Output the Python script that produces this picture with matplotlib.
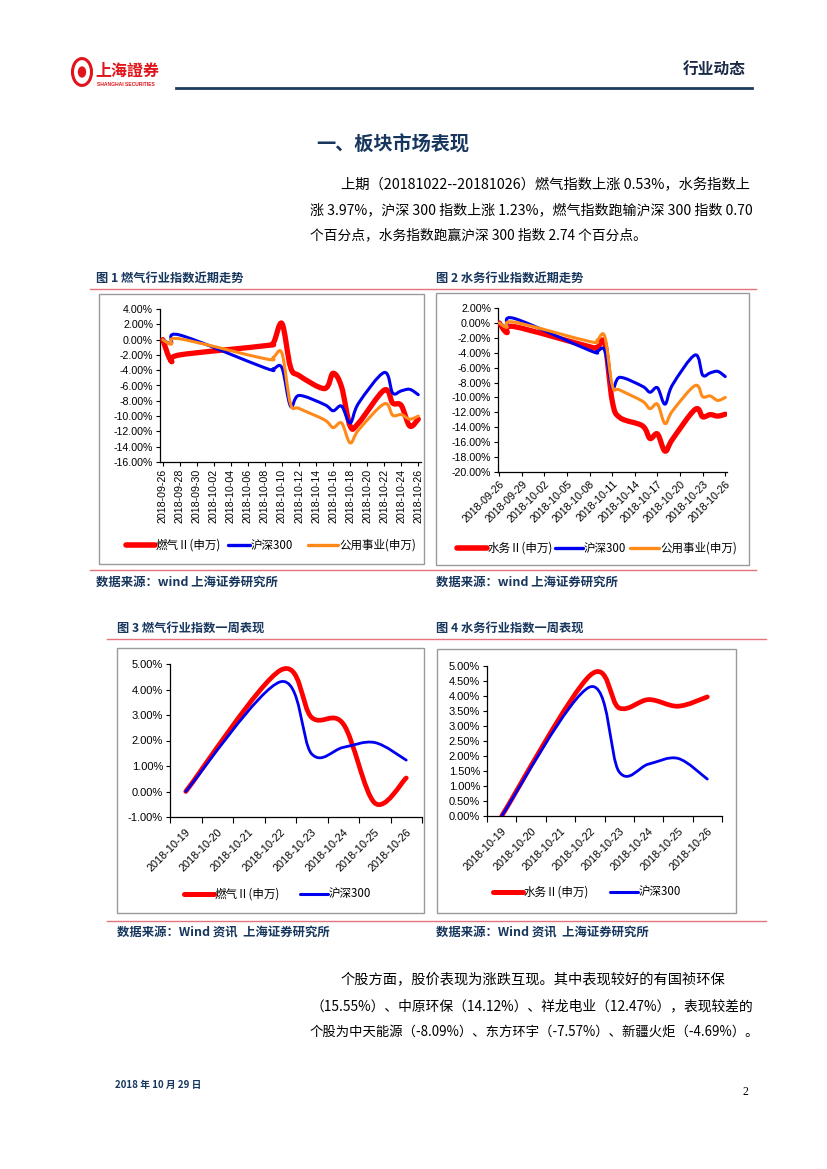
import numpy as np
import pandas as pd
import matplotlib
matplotlib.use('Agg')
import matplotlib.pyplot as plt
import matplotlib.dates as mdates
from matplotlib.path import Path
from matplotlib.patches import PathPatch, Rectangle, Circle
from matplotlib.lines import Line2D

CJK = ['Noto Sans CJK SC', 'DejaVu Sans']
LAT = ['Liberation Sans', 'DejaVu Sans']
plt.rcParams['font.family'] = CJK

# ---------------- data ----------------
trend_dates = ['2018-09-26', '2018-09-27', '2018-09-28', '2018-10-08', '2018-10-09',
               '2018-10-10', '2018-10-11', '2018-10-12', '2018-10-15', '2018-10-16',
               '2018-10-17', '2018-10-18', '2018-10-19', '2018-10-22', '2018-10-23',
               '2018-10-24', '2018-10-25', '2018-10-26']
gas_trend = [0.0, -2.8, -2.0, -0.8, -0.4, 2.1, -3.6, -4.7, -6.4, -4.4, -6.2, -11.3,
             -10.9, -6.6, -8.3, -8.6, -11.3, -10.4]
hs300_trend = [0.0, -0.5, 0.6, -3.7, -3.8, -3.7, -8.7, -7.3, -8.5, -9.3, -8.7, -10.9,
               -8.3, -4.3, -7.0, -6.7, -6.5, -7.2]
utility_trend = [0.0, -0.6, 0.1, -2.5, -2.3, -1.8, -8.4, -9.0, -10.5, -11.5, -10.9, -13.5,
                 -11.8, -8.4, -9.9, -9.8, -10.4, -10.0]
water_trend = [0.0, -1.3, -0.5, -3.2, -3.3, -2.7, -10.5, -12.7, -13.8, -15.5, -14.9, -17.2,
               -15.6, -11.6, -12.6, -12.3, -12.5, -12.25]

fig1_ticks = ['2018-09-26', '2018-09-28', '2018-09-30', '2018-10-02', '2018-10-04',
              '2018-10-06', '2018-10-08', '2018-10-10', '2018-10-12', '2018-10-14',
              '2018-10-16', '2018-10-18', '2018-10-20', '2018-10-22', '2018-10-24',
              '2018-10-26']
fig2_ticks = ['2018-09-26', '2018-09-29', '2018-10-02', '2018-10-05', '2018-10-08',
              '2018-10-11', '2018-10-14', '2018-10-17', '2018-10-20', '2018-10-23',
              '2018-10-26']
fig1_yticks = [4, 2, 0, -2, -4, -6, -8, -10, -12, -14, -16]
fig2_yticks = [2, 0, -2, -4, -6, -8, -10, -12, -14, -16, -18, -20]

week_dates = ['2018-10-19', '2018-10-22', '2018-10-23', '2018-10-24', '2018-10-25', '2018-10-26']
week_labels = ['2018-10-19', '2018-10-20', '2018-10-21', '2018-10-22', '2018-10-23',
               '2018-10-24', '2018-10-25', '2018-10-26']
gas_week = [0.0, 4.75, 2.9, 2.65, -0.45, 0.53]
hs300_week = [0.0, 4.3, 1.47, 1.73, 1.92, 1.23]
water_week = [0.0, 4.68, 3.6, 3.88, 3.66, 3.97]
fig3_yticks = [5, 4, 3, 2, 1, 0, -1]
fig4_yticks = [5, 4.5, 4, 3.5, 3, 2.5, 2, 1.5, 1, 0.5, 0]

RED = '#FF0000'
BLUE = '#0000F0'
ORANGE = '#FF8A1A'
NAVY = '#17365D'
SEP = '#E5737D'

W, H = 827, 1169
fig = plt.figure(figsize=(W / 100, H / 100), dpi=100)


def fx(x):
    return x / W


def fy(y):
    return 1 - y / H


def text(x, y, s, **kw):
    fig.text(fx(x), fy(y), s, **kw)


def hline(x0, x1, y, **kw):
    fig.add_artist(Line2D([fx(x0), fx(x1)], [fy(y), fy(y)], transform=fig.transFigure, **kw))


def frame(x0, y0, x1, y1):
    fig.add_artist(Rectangle((fx(x0), fy(y1)), fx(x1) - fx(x0), fy(y0) - fy(y1),
                             transform=fig.transFigure, fill=False, edgecolor='#9A9A9A', lw=1.0))


def axes_at(l, t, r, b):
    ax = fig.add_axes([fx(l), fy(b), fx(r) - fx(l), fy(t) - fy(b)])
    ax.set_facecolor('none')
    for s in ['top', 'right']:
        ax.spines[s].set_visible(False)
    for s in ['left', 'bottom']:
        ax.spines[s].set_color('black')
        ax.spines[s].set_linewidth(0.9)
    ax.tick_params(direction='out', length=3, width=0.8, colors='black', labelsize=7.7, pad=2)
    return ax


def smooth_path(x, y):
    x = np.asarray(x, float)
    y = np.asarray(y, float)
    n = len(x)
    verts = [(x[0], y[0])]
    codes = [Path.MOVETO]
    for i in range(n - 1):
        p0 = np.array([x[max(i - 1, 0)], y[max(i - 1, 0)]])
        p1 = np.array([x[i], y[i]])
        p2 = np.array([x[i + 1], y[i + 1]])
        p3 = np.array([x[min(i + 2, n - 1)], y[min(i + 2, n - 1)]])
        c1 = p1 + (p2 - p0) / 6.0
        c2 = p2 - (p3 - p1) / 6.0
        verts += [tuple(c1), tuple(c2), tuple(p2)]
        codes += [Path.CURVE4] * 3
    return Path(verts, codes)


def draw_series(ax, x, y, color, lw, z):
    ax.add_patch(PathPatch(smooth_path(x, y), fill=False, edgecolor=color, lw=lw,
                           capstyle='round', joinstyle='round', zorder=z))


def legend_item(x0, x1, y, color, lw, label):
    hline(x0, x1, y, color=color, lw=lw, solid_capstyle='round')
    text(x1 + 1, y, label, fontsize=8.3, va='center', ha='left', family=CJK, color='black')


def pct(v, nd=2):
    return f'{v:.{nd}f}%'


# ---------------- header ----------------
fig.add_artist(Circle((fx(82), fy(72)), 9.5 / W, transform=fig.transFigure,
                      fill=False, edgecolor='#E0151B', lw=2.2))
fig.add_artist(Circle((fx(82), fy(72)), 3.5 / W, transform=fig.transFigure,
                      fill=True, color='#E0151B'))
text(95, 71, '上海證券', fontsize=11.5, fontweight='bold', color='#E0151B',
     family=['Noto Sans CJK TC', 'DejaVu Sans'], va='center', ha='left')
text(97, 84, 'SHANGHAI SECURITIES', fontsize=3.6, color='#E0151B', fontweight='bold',
     family=LAT, va='center', ha='left')
text(746, 70, '行业动态', fontsize=11.3, fontweight='bold', color='#1B2A47', va='center', ha='right')
hline(176, 752, 88, color='#1F3A5F', lw=2.0)

# ---------------- section text ----------------
text(393, 145, '一、板块市场表现', fontsize=13.8, fontweight='bold', color=NAVY, ha='center', va='center')
para_kw = dict(color='black', va='center', ha='left')
text(341, 185, '上期（20181022--20181026）燃气指数上涨 0.53%，水务指数上', fontsize=10.3, **para_kw)
text(310, 210, '涨 3.97%，沪深 300 指数上涨 1.23%，燃气指数跑输沪深 300 指数 0.70', fontsize=10.1, **para_kw)
text(310, 235, '个百分点，水务指数跑赢沪深 300 指数 2.74 个百分点。', fontsize=9.9, **para_kw)

# ---------------- figure 1/2 titles & separators ----------------
title_kw = dict(fontsize=8.8, fontweight='bold', color=NAVY, va='center', ha='left')
text(96, 278, '图 1 燃气行业指数近期走势', **title_kw)
text(436, 278, '图 2 水务行业指数近期走势', **title_kw)
hline(90, 756, 289, color=SEP, lw=1.0)
hline(90, 756, 570, color=SEP, lw=1.0)
src_kw = dict(fontsize=8.9, fontweight='bold', color=NAVY, va='center', ha='left', style='italic')
text(96, 582, '数据来源：wind 上海证券研究所', **src_kw)
text(436, 582, '数据来源：wind 上海证券研究所', **src_kw)

frame(99, 294, 424, 564)
frame(436, 293, 749, 565)

# ---------------- figure 1 ----------------
tx = mdates.date2num(pd.to_datetime(trend_dates))
t1 = mdates.date2num(pd.to_datetime(fig1_ticks))
t2 = mdates.date2num(pd.to_datetime(fig2_ticks))

ax1 = axes_at(160, 309, 421, 462)
draw_series(ax1, tx, gas_trend, RED, 3.8, 3)
draw_series(ax1, tx, hs300_trend, BLUE, 2.2, 4)
draw_series(ax1, tx, utility_trend, ORANGE, 2.2, 5)
ax1.set_xlim(tx[0] - 0.32, tx[-1] + 0.32)
ax1.set_ylim(fig1_yticks[-1], fig1_yticks[0])
ax1.set_yticks(fig1_yticks)
ax1.set_yticklabels([pct(v) for v in fig1_yticks], family=LAT)
ax1.set_xticks(t1)
ax1.set_xticklabels(fig1_ticks, rotation=90, family=LAT)
legend_item(126, 155, 545, RED, 4.0, '燃气Ⅱ(申万)')
legend_item(228, 250, 545, BLUE, 2.4, '沪深300')
legend_item(308, 338, 545, ORANGE, 2.4, '公用事业(申万)')

# ---------------- figure 2 ----------------
ax2 = axes_at(498, 308, 727, 472)
draw_series(ax2, tx, water_trend, RED, 3.8, 3)
draw_series(ax2, tx, hs300_trend, BLUE, 2.2, 4)
draw_series(ax2, tx, utility_trend, ORANGE, 2.2, 5)
ax2.set_xlim(tx[0] - 0.17, tx[-1] + 0.23)
ax2.set_ylim(fig2_yticks[-1], fig2_yticks[0])
ax2.set_yticks(fig2_yticks)
ax2.set_yticklabels([pct(v) for v in fig2_yticks], family=LAT)
ax2.set_xticks(t2)
ax2.set_xticklabels(fig2_ticks, rotation=45, ha='right', rotation_mode='anchor', family=LAT)
legend_item(457, 487, 548, RED, 4.0, '水务Ⅱ(申万)')
legend_item(555, 583, 548, BLUE, 2.4, '沪深300')
legend_item(630, 659, 548, ORANGE, 2.4, '公用事业(申万)')

# ---------------- figure 3/4 titles & separators ----------------
text(117, 628, '图 3 燃气行业指数一周表现', **title_kw)
text(436, 628, '图 4 水务行业指数一周表现', **title_kw)
hline(107, 766, 639, color=SEP, lw=1.0)
hline(107, 766, 921, color=SEP, lw=1.0)
text(117, 933, '数据来源：Wind 资讯  上海证券研究所', **src_kw)
text(436, 933, '数据来源：Wind 资讯  上海证券研究所', **src_kw)

frame(117, 648, 424, 913)
frame(437, 649, 736, 913)

wk_all = mdates.date2num(pd.to_datetime(week_labels))
wx = mdates.date2num(pd.to_datetime(week_dates))

# ---------------- figure 3 ----------------
ax3 = axes_at(170, 664, 422, 817)
draw_series(ax3, wx, gas_week, RED, 3.4, 3)
draw_series(ax3, wx, hs300_week, BLUE, 2.0, 4)
ax3.set_xlim(wk_all[0] - 0.5, wk_all[-1] + 0.5)
ax3.set_ylim(fig3_yticks[-1], fig3_yticks[0])
ax3.set_yticks(fig3_yticks)
ax3.set_yticklabels([pct(v) for v in fig3_yticks], family=LAT, fontsize=8)
ax3.set_xticks(np.append(wk_all - 0.5, wk_all[-1] + 0.5))
ax3.set_xticklabels([])
ax3.tick_params(axis='x', length=4)
ax3.set_xticks(wk_all, minor=True)
ax3.set_xticklabels(week_labels, minor=True, rotation=45, ha='right', rotation_mode='anchor',
                    family=LAT, fontsize=7.8)
ax3.tick_params(axis='x', which='minor', length=0, pad=7)
legend_item(184, 214, 894, RED, 3.6, '燃气Ⅱ(申万)')
legend_item(300, 328, 894, BLUE, 2.2, '沪深300')

# ---------------- figure 4 ----------------
ax4 = axes_at(487, 666, 722, 816)
draw_series(ax4, wx, water_week, RED, 3.4, 3)
draw_series(ax4, wx, hs300_week, BLUE, 2.0, 4)
ax4.set_xlim(wk_all[0] - 0.5, wk_all[-1] + 0.5)
ax4.set_ylim(fig4_yticks[-1], fig4_yticks[0])
ax4.set_yticks(fig4_yticks)
ax4.set_yticklabels([pct(v) for v in fig4_yticks], family=LAT, fontsize=8)
ax4.set_xticks(np.append(wk_all - 0.5, wk_all[-1] + 0.5))
ax4.set_xticklabels([])
ax4.tick_params(axis='x', length=4)
ax4.set_xticks(wk_all, minor=True)
ax4.set_xticklabels(week_labels, minor=True, rotation=45, ha='right', rotation_mode='anchor',
                    family=LAT, fontsize=7.8)
ax4.tick_params(axis='x', which='minor', length=0, pad=7)
legend_item(493, 523, 892, RED, 3.6, '水务Ⅱ(申万)')
legend_item(610, 638, 892, BLUE, 2.2, '沪深300')

# ---------------- bottom text ----------------
text(341, 980, '个股方面，股价表现为涨跌互现。其中表现较好的有国祯环保', fontsize=10.25, **para_kw)
text(310, 1006, '（15.55%）、中原环保（14.12%）、祥龙电业（12.47%），表现较差的', fontsize=9.9, **para_kw)
text(310, 1032, '个股为中天能源（-8.09%）、东方环宇（-7.57%）、新疆火炬（-4.69%）。', fontsize=9.6, **para_kw)

text(115, 1085, '2018 年 10 月 29 日', fontsize=7, fontweight='bold', color=NAVY, va='center', ha='left')
text(748, 1092, '2', fontsize=8.5, color='black', va='center', ha='right', family=['Liberation Serif', 'DejaVu Serif'])

fig.savefig('out.png', dpi=100)
